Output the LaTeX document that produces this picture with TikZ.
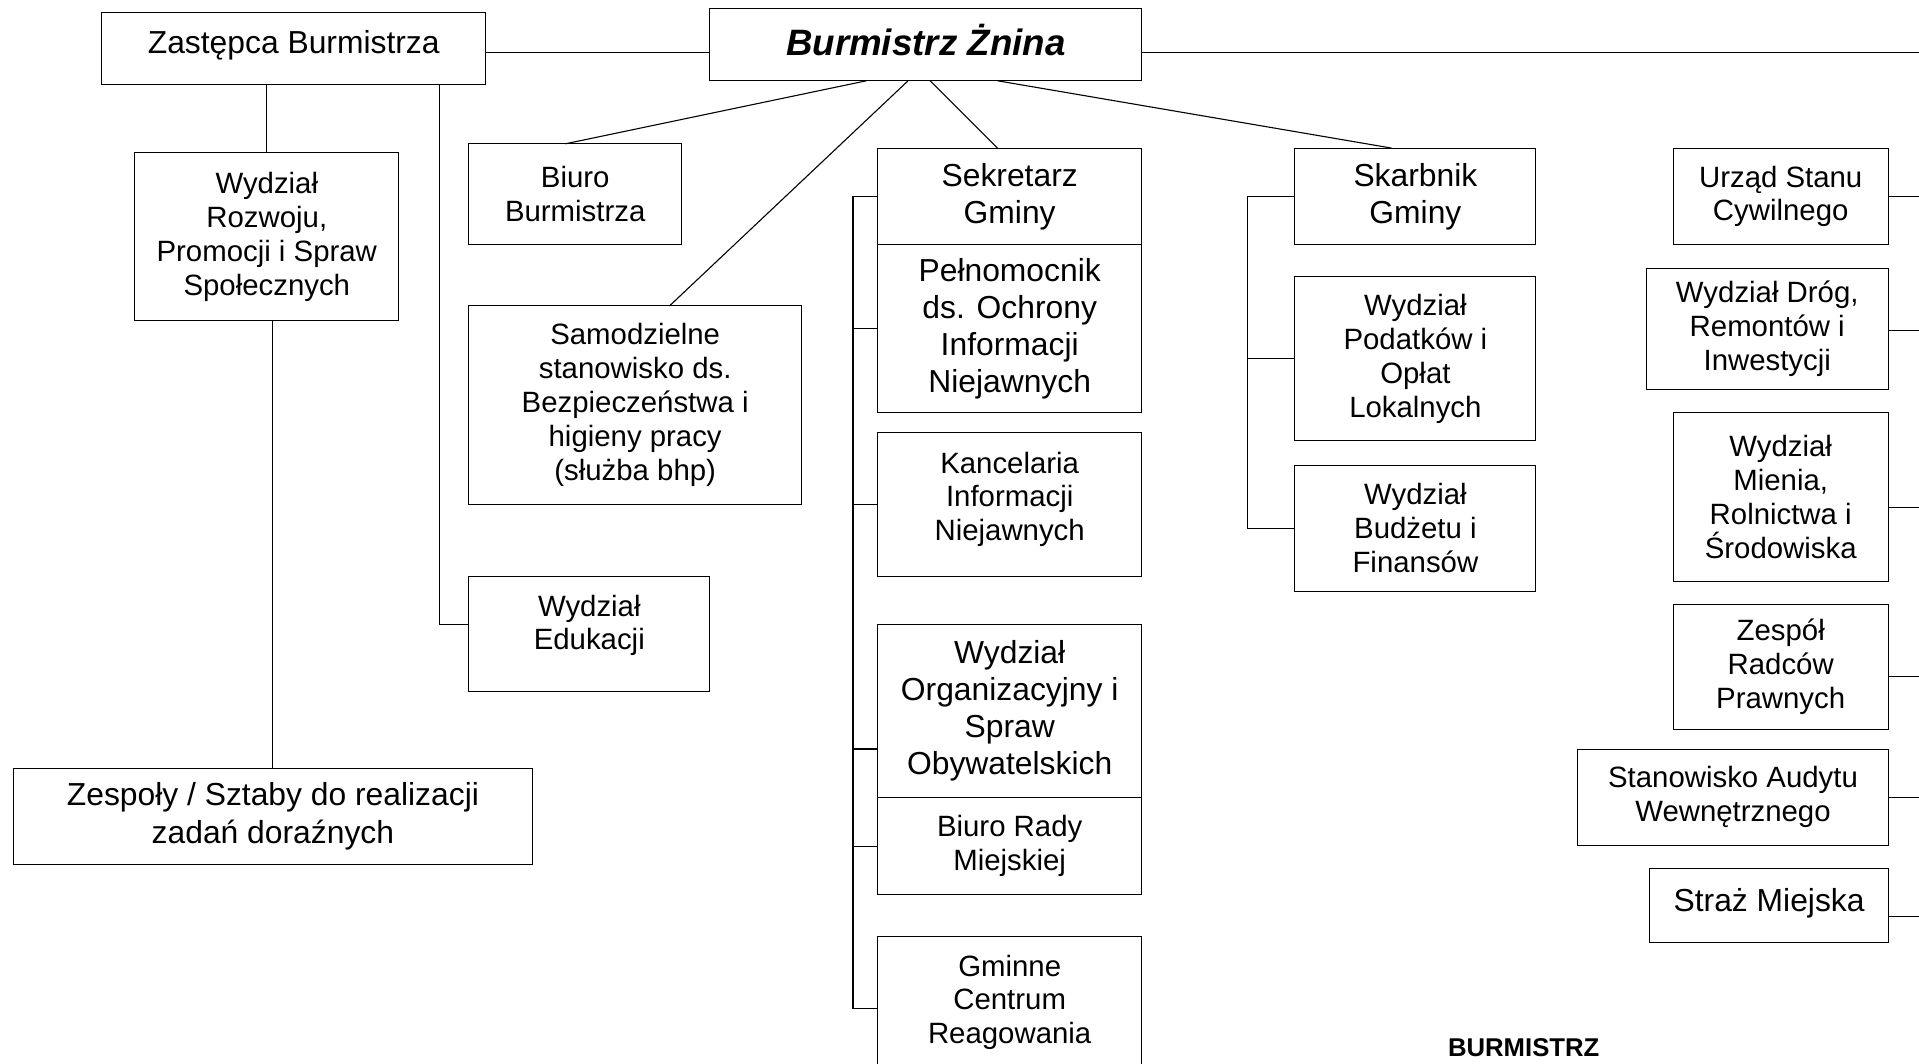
\documentclass[tikz,border=0pt]{standalone}
\usepackage{fontspec}
\setmainfont{Liberation Sans}

\def \lineW {0.9pt}

\tikzset{
  unit/.style={draw, line width=0.8pt, inner sep=0pt, outer sep=0pt, align=center,
    font=\fontsize{24}{27.7}\selectfont},
  bigunit/.style={unit, font=\fontsize{26}{30.3}\selectfont},
  link/.style={line width=\lineW}
}

\begin{document}
\begin{tikzpicture}[x=1pt, y=-1pt]
  \useasboundingbox (0,0) rectangle (1568,868.6);

  \node[bigunit, minimum width=314, minimum height=59, text depth=11pt] (zastepca) at (240,39.5) {Zastępca Burmistrza};
  \node[unit, minimum width=353, minimum height=59, text depth=8pt, font=\fontsize{30}{34}\selectfont\bfseries\itshape] (burmistrz) at (756.5,36.5) {Burmistrz Żnina};

  \node[unit, minimum width=216, minimum height=137] (rozwoj) at (218,193.5) {Wydział\\Rozwoju,\\Promocji i Spraw\\Społecznych};
  \node[unit, minimum width=174, minimum height=82] (biuro) at (470,158.5) {Biuro\\Burmistrza};
  \node[unit, minimum width=272, minimum height=162] (samodzielne) at (519,331) {Samodzielne\\stanowisko ds.\\Bezpieczeństwa i\\higieny pracy\\(służba bhp)};
  \node[unit, minimum width=197, minimum height=94, text depth=19pt] (edukacja) at (481.5,518) {Wydział\\Edukacji};
  \node[bigunit, minimum width=424, minimum height=78] (zespoly) at (223,667) {Zespoły / Sztaby do realizacji\\zadań doraźnych};

  \node[bigunit, minimum width=216, minimum height=79] (sekretarz) at (825,160.5) {Sekretarz\\Gminy};
  \node[bigunit, minimum width=216, minimum height=137] (pelnomocnik) at (825,268.5) {Pełnomocnik\\ds. Ochrony\\Informacji\\Niejawnych};
  \node[unit, minimum width=216, minimum height=118, text depth=13pt] (kancelaria) at (825,412) {Kancelaria\\Informacji\\Niejawnych};
  \node[bigunit, minimum width=216, minimum height=142] (organizacyjny) at (825,581) {Wydział\\Organizacyjny i\\Spraw\\Obywatelskich};
  \node[unit, minimum width=216, minimum height=79] (biurorady) at (825,691.5) {Biuro Rady\\Miejskiej};
  \node[unit, minimum width=216, minimum height=118, text depth=15pt] (gcr) at (825,824) {Gminne\\Centrum\\Reagowania};

  \node[bigunit, minimum width=197, minimum height=79] (skarbnik) at (1156.5,160.5) {Skarbnik\\Gminy};
  \node[unit, minimum width=197, minimum height=134] (podatki) at (1156.5,293) {Wydział\\Podatków i\\Opłat\\Lokalnych};
  \node[unit, minimum width=197, minimum height=103] (budzet) at (1156.5,431.5) {Wydział\\Budżetu i\\Finansów};

  \node[unit, minimum width=176, minimum height=79] (usc) at (1455,160.5) {Urząd Stanu\\Cywilnego};
  \node[unit, minimum width=198, minimum height=99] (drogi) at (1444,268.5) {Wydział Dróg,\\Remontów i\\Inwestycji};
  \node[unit, minimum width=176, minimum height=138] (mienie) at (1455,406) {Wydział\\Mienia,\\Rolnictwa i\\Środowiska};
  \node[unit, minimum width=176, minimum height=102] (radcy) at (1455,545) {Zespół\\Radców\\Prawnych};
  \node[unit, minimum width=254, minimum height=79] (audyt) at (1416,651.5) {Stanowisko Audytu\\Wewnętrznego};
  \node[bigunit, minimum width=195, minimum height=60, text depth=9pt] (straz) at (1445.5,740) {Straż Miejska};

  \node[font=\fontsize{21}{24}\selectfont\bfseries] (podpis) at (1245,856) {BURMISTRZ};

  \coordinate (hline) at (0,43);
  \coordinate (edge) at (1568,0);
  \coordinate (zbar) at (359,0);
  \coordinate (sbar) at (697,0);
  \coordinate (kbar) at (1019,0);

  \draw[link] (zastepca.east |- hline) -- (burmistrz.west |- hline);
  \draw[link] (burmistrz.east |- hline) -- (edge |- hline);

  \draw[link] (zastepca.south -| rozwoj.north) -- (rozwoj.north);
  \draw[link] (zastepca.south -| zbar) |- ([yshift=8pt]edukacja.west);
  \draw[link] (rozwoj.south -| zespoly.north) -- (zespoly.north);

  \draw[link] ([xshift=-48.5pt]burmistrz.south) -- ([xshift=-8pt]biuro.north);
  \draw[link] ([xshift=-14.5pt]burmistrz.south) -- ([xshift=28pt]samodzielne.north);
  \draw[link] ([xshift=3.5pt]burmistrz.south) -- ([xshift=-10pt]sekretarz.north);
  \draw[link] ([xshift=58.5pt]burmistrz.south) -- ([xshift=-19.5pt]skarbnik.north);

  \draw[link] (sekretarz.west) -- (sekretarz.west -| sbar) |- (gcr.west);
  \foreach \n in {pelnomocnik, kancelaria, biurorady}
    \draw[link] (\n.west) -- (\n.west -| sbar);
  \draw[link] ([yshift=-31pt]organizacyjny.west) -- ([yshift=-31pt]organizacyjny.west -| sbar);

  \draw[link] (skarbnik.west) -- (skarbnik.west -| kbar) |- (budzet.west);
  \draw[link] (podatki.west) -- (podatki.west -| kbar);

  \foreach \n/\s in {usc/0, drogi/-1.5, mienie/-9, radcy/-8, audyt/0, straz/-9}
    \draw[link] ([yshift=\s pt]\n.east) -- ([yshift=\s pt]\n.east -| edge);
\end{tikzpicture}
\end{document}
